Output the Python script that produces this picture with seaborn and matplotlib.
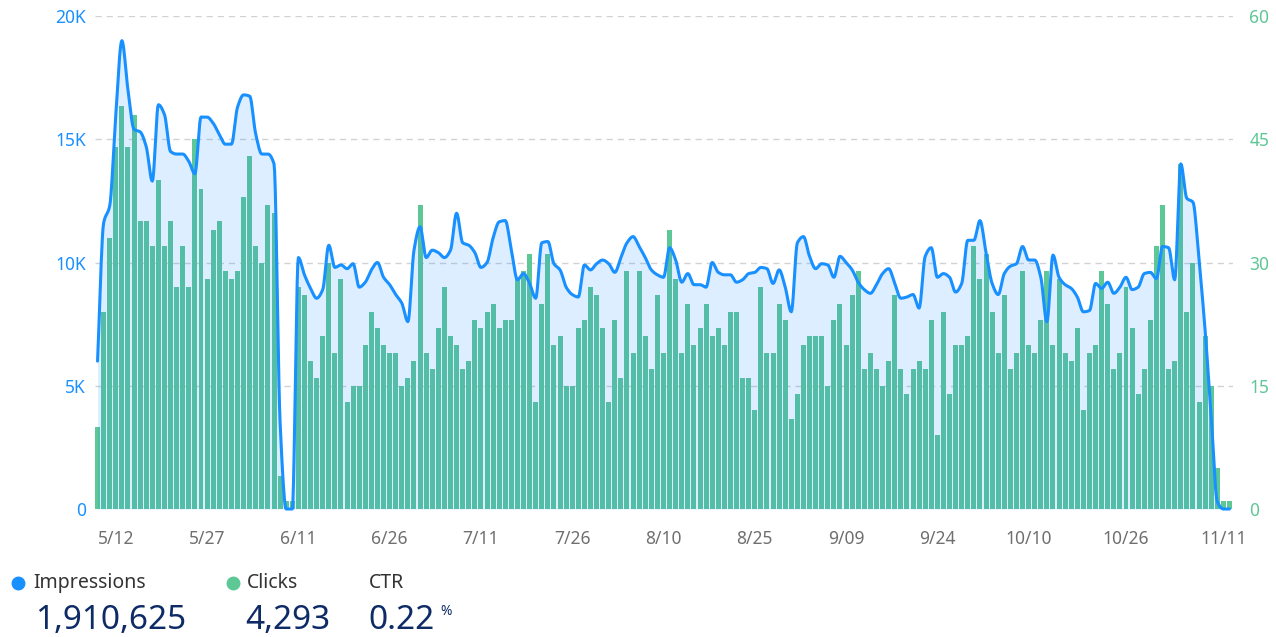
import numpy as np
import pandas as pd
import matplotlib
matplotlib.use("Agg")
import matplotlib.pyplot as plt
from matplotlib.lines import Line2D
import seaborn as sns

# ---- daily data -------------------------------------------------------
clicks = [
    10, 24, 33, 44, 49, 44, 48, 35, 35, 32, 40, 32, 35, 27, 32, 27, 45,
    39, 28, 34, 35, 29, 28, 29, 38, 43, 32, 30, 37, 36, 4, 1, 1, 27,
    26, 18, 16, 21, 30, 19, 28, 13, 15, 15, 20, 24, 22, 20, 19, 19, 15,
    16, 18, 37, 19, 17, 22, 27, 21, 20, 17, 18, 23, 22, 24, 25, 22, 23,
    23, 28, 29, 31, 13, 25, 31, 20, 21, 15, 15, 22, 23, 27, 26, 22, 13,
    23, 16, 29, 19, 29, 21, 17, 26, 19, 34, 28, 19, 25, 20, 22, 25, 21,
    22, 20, 24, 24, 16, 16, 12, 27, 19, 19, 25, 23, 11, 14, 20, 21, 21,
    21, 15, 23, 25, 20, 26, 29, 17, 19, 17, 15, 18, 26, 17, 14, 17, 18, 17,
    23, 9, 24, 14, 20, 20, 21, 32, 28, 31, 24, 19, 26, 17, 19, 29, 20,
    19, 23, 29, 20, 28, 19, 18, 22, 12, 19, 20, 29, 25, 17, 19, 27, 22,
    14, 17, 23, 32, 37, 17, 18, 42, 24, 30, 13, 21, 15, 5, 1, 1,
]

impressions_k = [
    6.0, 11.6, 12.3, 16.0, 19.0, 17.0, 15.4, 15.3, 14.7, 13.3, 16.4, 16.0, 14.5, 14.4, 14.4, 14.1, 13.6,
    15.9, 15.9, 15.65, 15.2, 14.8, 14.8, 16.3, 16.8, 16.75, 15.2, 14.4, 14.4, 14.0, 3.5, 0.0, 0.0, 10.2,
    9.5, 8.95, 8.55, 8.9, 10.7, 9.8, 9.9, 9.75, 9.95, 9.0, 9.2, 9.7, 10.0, 9.4, 9.1, 8.7, 8.35,
    7.6, 10.5, 11.45, 10.2, 10.5, 10.4, 10.2, 10.5, 12.0, 10.8, 10.7, 10.4, 9.8, 10.0, 11.0, 11.65, 11.7,
    10.5, 9.3, 9.55, 9.15, 8.55, 10.8, 10.85, 9.95, 9.7, 9.0, 8.7, 8.6, 9.9, 9.7, 9.95, 10.1, 9.95,
    9.6, 10.2, 10.8, 11.05, 10.65, 10.2, 9.7, 9.5, 9.4, 10.6, 10.1, 9.2, 9.55, 9.1, 9.1, 9.0, 10.0,
    9.6, 9.5, 9.5, 9.2, 9.3, 9.55, 9.6, 9.8, 9.75, 9.15, 9.7, 9.0, 8.0, 10.8, 11.05, 10.25, 9.75,
    9.95, 9.9, 9.4, 10.25, 10.0, 9.7, 9.2, 8.9, 8.75, 9.1, 9.55, 9.75, 9.15, 8.55, 8.6, 8.7, 8.15, 10.25,
    10.6, 9.4, 9.55, 9.4, 8.8, 9.15, 10.9, 10.9, 11.7, 10.4, 9.15, 8.7, 9.55, 9.85, 9.95, 10.65, 10.1,
    10.1, 9.4, 7.6, 10.3, 9.4, 9.1, 8.95, 8.6, 8.0, 8.05, 9.15, 8.95, 9.2, 8.75, 9.0, 9.4, 8.9,
    9.0, 9.55, 9.6, 9.35, 10.65, 10.6, 9.3, 14.0, 12.6, 12.45, 10.1, 7.25, 3.75, 0.3, 0.0, 0.0,
]

# labelled days (slot in the daily series) and their text
tick_slots = [3, 18, 33, 48, 63, 78, 93, 108, 123, 138, 153, 169, 185]
tick_labels = ["5/12", "5/27", "6/11", "6/26", "7/11", "7/26", "8/10",
               "8/25", "9/09", "9/24", "10/10", "10/26", "11/11"]

imp_ticks = [0, 5000, 10000, 15000, 20000]
imp_tick_labels = ["0", "5K", "10K", "15K", "20K"]
click_ticks = [0, 15, 30, 45, 60]

total_impressions = "1,910,625"
total_clicks = "4,293"
total_ctr = "0.22"

# ---- styling ------------------------------------------------------------
BLUE = "#1890ff"
GREEN = "#5ec796"
GRID = "#d2d2d2"
AXIS_TEXT = "#6f6f6f"
LABEL_TEXT = "#333333"
NAVY = "#0e2b66"

sns.set_style("white")
plt.rcParams["font.family"] = ["Noto Sans", "DejaVu Sans"]

W_PX, H_PX = 1276, 637
fig = plt.figure(figsize=(W_PX / 100, H_PX / 100), dpi=100)


def fx(px):
    return px / W_PX


def fy(py):
    return 1 - py / H_PX


def monotone_curve(x, y, per=10):
    """Shape-preserving cubic path through (x, y) for a smooth line drawing."""
    x = np.asarray(x, float)
    y = np.asarray(y, float)
    h = np.diff(x)
    delta = np.diff(y) / h
    d = np.zeros_like(y)
    for k in range(1, len(y) - 1):
        if delta[k - 1] * delta[k] > 0:
            w1 = 2 * h[k] + h[k - 1]
            w2 = h[k] + 2 * h[k - 1]
            d[k] = (w1 + w2) / (w1 / delta[k - 1] + w2 / delta[k])
    d[0], d[-1] = delta[0], delta[-1]
    xs, ys = [], []
    t = np.linspace(0, 1, per, endpoint=False)
    for k in range(len(y) - 1):
        h00 = 2 * t**3 - 3 * t**2 + 1
        h10 = t**3 - 2 * t**2 + t
        h01 = -2 * t**3 + 3 * t**2
        h11 = t**3 - t**2
        xs.append(x[k] + t * h[k])
        ys.append(h00 * y[k] + h10 * h[k] * d[k] + h01 * y[k + 1] + h11 * h[k] * d[k + 1])
    xs.append([x[-1]])
    ys.append([y[-1]])
    return np.concatenate(xs), np.concatenate(ys)


left, right, top, bottom = 94.5, 1232.5, 16, 509
ax_bar = fig.add_axes([fx(left), fy(bottom), fx(right - left), (bottom - top) / H_PX])

n = len(clicks)
df = pd.DataFrame({
    "day": np.arange(n),
    "clicks": clicks,
    "impressions": np.array(impressions_k) * 1000,
})

sns.barplot(data=df, x="day", y="clicks", ax=ax_bar, color=GREEN,
            saturation=1, width=0.82, edgecolor="none", zorder=2)
ax_bar.set_xlim(-0.5, n - 0.5)
ax_bar.set_ylim(0, 60)

# dashed horizontal guides
for v in click_ticks[1:]:
    ax_bar.axhline(v, color=GRID, lw=1.0, ls=(0, (4.5, 3.5)), zorder=1)

ax_line = ax_bar.twinx()
cx, cy = monotone_curve(df["day"], df["impressions"])
curve = pd.DataFrame({"day": cx, "impressions": cy})
ax_line.fill_between(curve["day"], curve["impressions"], 0, color=BLUE,
                     alpha=0.15, lw=0, zorder=1)
sns.lineplot(data=curve, x="day", y="impressions", ax=ax_line, color=BLUE,
             lw=2.2, zorder=3, clip_on=False, solid_joinstyle="round",
             solid_capstyle="round", sort=False, estimator=None)
ax_line.set_ylim(0, 20000)
ax_line.set_xlim(-0.5, n - 0.5)

# axes: impressions on the left, clicks on the right
ax_line.yaxis.tick_left()
ax_line.set_yticks(imp_ticks, imp_tick_labels)
ax_line.tick_params(axis="y", length=0, pad=6, labelcolor=BLUE, labelsize=12.5)
ax_bar.yaxis.tick_right()
ax_bar.set_yticks(click_ticks, [str(v) for v in click_ticks])
ax_bar.tick_params(axis="y", length=0, pad=12, labelcolor=GREEN, labelsize=12.5)
ax_bar.set_xticks(tick_slots, tick_labels)
ax_bar.tick_params(axis="x", length=0, pad=15, labelcolor=AXIS_TEXT, labelsize=12.5)

for a in (ax_bar, ax_line):
    a.set_xlabel("")
    a.set_ylabel("")
    for s in a.spines.values():
        s.set_visible(False)

# ---- summary row ----------------------------------------------------------
def dot(x, y, color):
    fig.add_artist(Line2D([fx(x)], [fy(y)], marker="o", ms=9, color=color,
                          lw=0, transform=fig.transFigure))


VALUE_SIZE = 24

dot(17.5, 583, BLUE)
fig.text(fx(33), fy(588), "Impressions", fontsize=14, color=LABEL_TEXT, va="baseline")
fig.text(fx(35), fy(629), total_impressions, fontsize=VALUE_SIZE, color=NAVY, va="baseline")

dot(232.5, 583, GREEN)
fig.text(fx(247), fy(588), "Clicks", fontsize=14, color=LABEL_TEXT, va="baseline")
fig.text(fx(245), fy(629), total_clicks, fontsize=VALUE_SIZE, color=NAVY, va="baseline")

fig.text(fx(369), fy(588), "CTR", fontsize=14, color=LABEL_TEXT, va="baseline")
fig.text(fx(368), fy(629), total_ctr, fontsize=VALUE_SIZE, color=NAVY, va="baseline")
fig.text(fx(440), fy(615), "%", fontsize=10, color=NAVY, va="baseline")

fig.savefig("out.png", dpi=100)
